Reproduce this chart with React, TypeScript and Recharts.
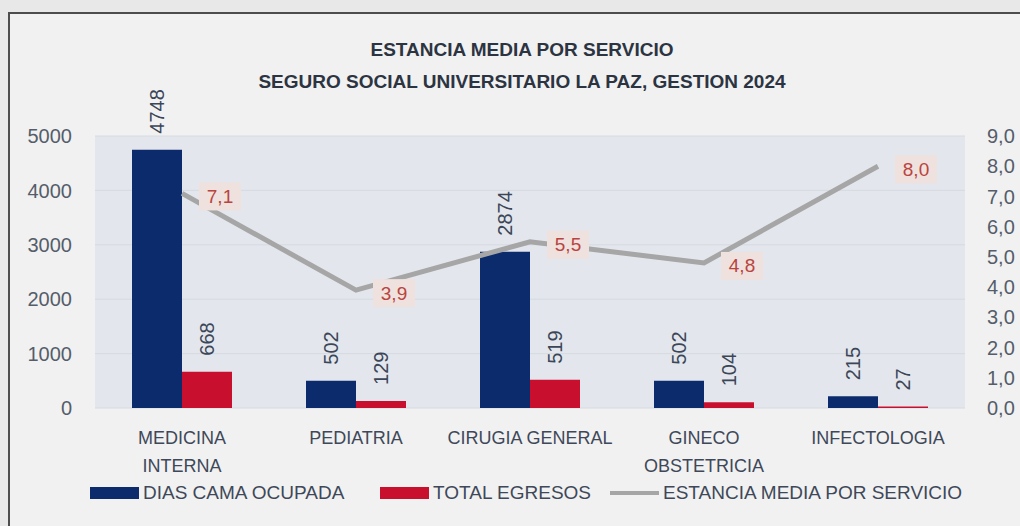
import {
  Bar,
  CartesianGrid,
  ComposedChart,
  LabelList,
  Legend,
  Line,
  XAxis,
  YAxis,
} from "recharts";

const categories = [
  "MEDICINA\nINTERNA",
  "PEDIATRIA",
  "CIRUGIA GENERAL",
  "GINECO\nOBSTETRICIA",
  "INFECTOLOGIA",
];
const diasCamaOcupada = [4748, 502, 2874, 502, 215];
const totalEgresos = [668, 129, 519, 104, 27];
const estanciaMedia = [7.1, 3.9, 5.5, 4.8, 8.0];

const leftTicks = [0, 1000, 2000, 3000, 4000, 5000];
const rightTicks = [0, 1, 2, 3, 4, 5, 6, 7, 8, 9];

const data = categories.map((name, i) => ({
  name,
  dias: diasCamaOcupada[i],
  egresos: totalEgresos[i],
  estancia: estanciaMedia[i],
}));

const NAVY = "#0c2b6c";
const RED = "#c8102e";
const GRAY = "#a6a6a6";
const SANS = '"Liberation Sans", Arial, sans-serif';

const legendItems = [
  { label: "DIAS CAMA OCUPADA", color: NAVY, kind: "rect" },
  { label: "TOTAL EGRESOS", color: RED, kind: "rect" },
  { label: "ESTANCIA MEDIA POR SERVICIO", color: GRAY, kind: "line" },
];
const legendSlot = [290, 230, 360];

const fmtComma = (v: number) => v.toFixed(1).replace(".", ",");

function CategoryTick({ x, y, payload }: any) {
  const lines = String(payload.value).split("\n");
  return (
    <text
      x={x}
      y={y}
      textAnchor="middle"
      fill="#3e4859"
      fontFamily={SANS}
      fontSize={18}
    >
      {lines.map((l, i) => (
        <tspan key={i} x={x} dy={28}>
          {l}
        </tspan>
      ))}
    </text>
  );
}

function BarValue({ x, y, width, value }: any) {
  const cx = x + width / 2;
  const cy = y - 16;
  return (
    <text
      x={cx}
      y={cy}
      transform={`rotate(-90 ${cx} ${cy})`}
      textAnchor="start"
      dominantBaseline="central"
      fill="#3b4658"
      fontFamily={SANS}
      fontSize={20}
    >
      {value}
    </text>
  );
}

function LineValue({ x, y, value }: any) {
  const cx = x + 38;
  const cy = y + 3;
  return (
    <g>
      <rect x={cx - 21} y={cy - 14} width={42} height={28} fill="#efe1dd" />
      <text
        x={cx}
        y={cy}
        textAnchor="middle"
        dominantBaseline="central"
        fill="#b9443f"
        fontFamily={SANS}
        fontSize={19}
      >
        {fmtComma(value)}
      </text>
    </g>
  );
}

function ChartLegend() {
  return (
    <div style={{ height: 40 }}>
      <div
        style={{
          display: "flex",
          alignItems: "center",
          paddingLeft: 70,
          transform: "translateY(-4px)",
          fontFamily: SANS,
          fontSize: 19,
          color: "#3e4859",
          whiteSpace: "nowrap",
        }}
      >
        {legendItems.map((it, i) => (
          <div
            key={it.label}
            style={{ display: "flex", alignItems: "center", width: legendSlot[i] }}
          >
            <span
              style={{
                display: "inline-block",
                width: 49,
                height: it.kind === "rect" ? 12 : 4,
                background: it.color,
                marginRight: 4,
              }}
            />
            <span>{it.label}</span>
          </div>
        ))}
      </div>
    </div>
  );
}

export default function App() {
  return (
    <div
      style={{
        position: "absolute",
        left: 0,
        top: 0,
        width: 1020,
        height: 526,
        overflow: "hidden",
        background: "#e8e8e8",
      }}
    >
      <div
        style={{
          position: "absolute",
          left: 8,
          top: 12,
          width: 1040,
          height: 560,
          borderLeft: "2px solid #4d4d4d",
          borderTop: "2px solid #4d4d4d",
          background: "#f1f1f1",
        }}
      />
      <div
        style={{
          position: "absolute",
          left: 0,
          top: 34,
          width: 1044,
          textAlign: "center",
          fontFamily: SANS,
          fontWeight: "bold",
          fontSize: 19,
          lineHeight: "32px",
          color: "#2c3442",
        }}
      >
        <div>ESTANCIA MEDIA POR SERVICIO</div>
        <div>SEGURO SOCIAL UNIVERSITARIO LA PAZ, GESTION 2024</div>
      </div>
      <div style={{ position: "absolute", left: 0, top: 0 }}>
        <ComposedChart
          width={1020}
          height={526}
          data={data}
          margin={{ top: 136, right: 0, left: 20, bottom: 0 }}
          barGap={0}
        >
          <CartesianGrid
            vertical={false}
            stroke="#d6dae1"
            fill="#e3e6ec"
            yAxisId="left"
          />
          <XAxis
            dataKey="name"
            tick={<CategoryTick />}
            tickLine={false}
            axisLine={false}
            height={78}
            interval={0}
          />
          <YAxis
            yAxisId="left"
            domain={[0, 5000]}
            ticks={leftTicks}
            width={75}
            tickLine={false}
            axisLine={false}
            tickMargin={17}
            tick={{ fill: "#555d6b", fontSize: 20, fontFamily: SANS }}
          />
          <YAxis
            yAxisId="right"
            orientation="right"
            domain={[0, 9]}
            ticks={rightTicks}
            width={55}
            tickLine={false}
            axisLine={false}
            tickMargin={16}
            tickFormatter={fmtComma}
            tick={{ fill: "#555d6b", fontSize: 20, fontFamily: SANS }}
          />
          <Legend verticalAlign="bottom" content={() => <ChartLegend />} />
          <Bar
            yAxisId="left"
            dataKey="dias"
            name="DIAS CAMA OCUPADA"
            fill={NAVY}
            barSize={50}
            isAnimationActive={false}
          >
            <LabelList dataKey="dias" content={<BarValue />} />
          </Bar>
          <Bar
            yAxisId="left"
            dataKey="egresos"
            name="TOTAL EGRESOS"
            fill={RED}
            barSize={50}
            isAnimationActive={false}
          >
            <LabelList dataKey="egresos" content={<BarValue />} />
          </Bar>
          <Line
            yAxisId="right"
            type="linear"
            dataKey="estancia"
            name="ESTANCIA MEDIA POR SERVICIO"
            stroke={GRAY}
            strokeWidth={5}
            dot={false}
            isAnimationActive={false}
          >
            <LabelList dataKey="estancia" content={<LineValue />} />
          </Line>
        </ComposedChart>
      </div>
    </div>
  );
}
